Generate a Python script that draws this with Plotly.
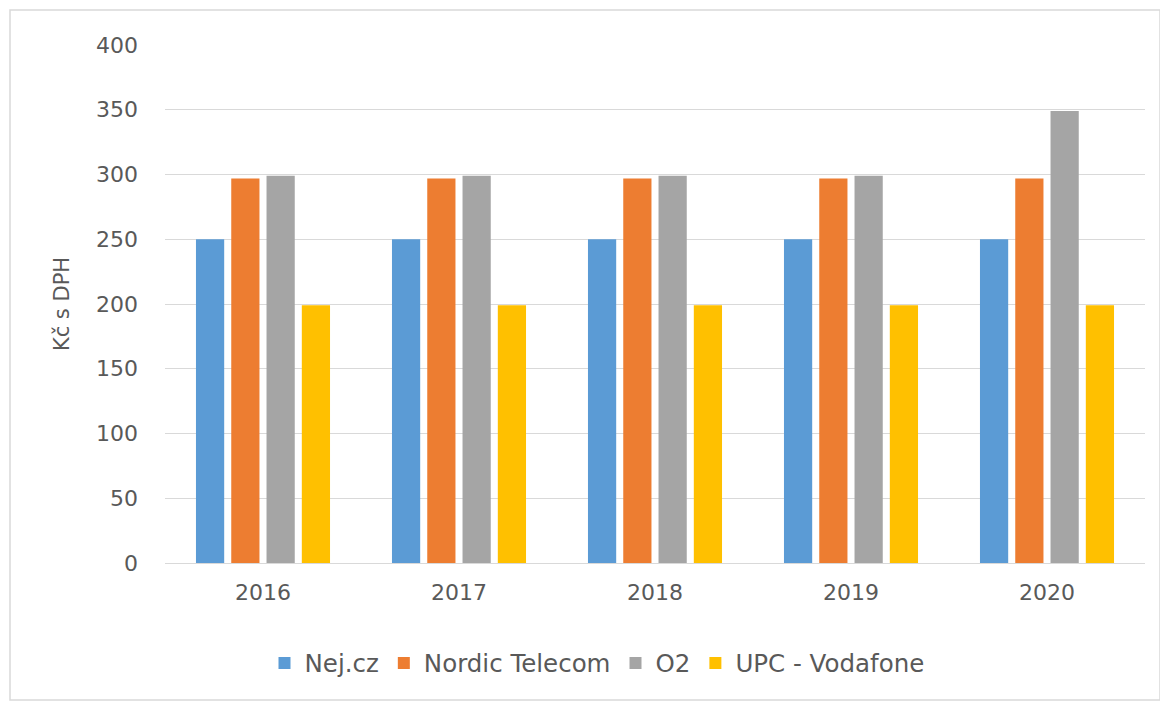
import plotly.graph_objects as go

years = ["2016", "2017", "2018", "2019", "2020"]
nej = [250, 250, 250, 250, 250]
nordic = [297, 297, 297, 297, 297]
o2 = [299, 299, 299, 299, 349]
upc = [199, 199, 199, 199, 199]

series = [
    ("Nej.cz", nej, "#5B9BD5"),
    ("Nordic Telecom", nordic, "#ED7D31"),
    ("O2", o2, "#A5A5A5"),
    ("UPC - Vodafone", upc, "#FFC000"),
]

fig = go.Figure()
for name, vals, col in series:
    fig.add_trace(go.Bar(x=years, y=vals, name=name, marker=dict(color=col, line=dict(width=0))))

# page has 8px body margin; figure coords = page coords - 8
OFF = 8
W, H = 1160, 696
L = 165 - OFF
T = 45 - OFF
R = W - (1145 - OFF)
B = H - (563 - OFF)
pw, ph = W - L - R, H - T - B
ybot = 563 - OFF

FONT = "DejaVu Sans, Open Sans, sans-serif"
FC = "#595959"

fig.update_layout(
    width=W, height=H,
    margin=dict(l=L, r=R, t=T, b=B),
    paper_bgcolor="white", plot_bgcolor="white",
    barmode="group", bargap=0.28, bargroupgap=0.2,
    font=dict(family=FONT, size=22, color=FC),
    showlegend=True,
    legend=dict(orientation="h", x=(597 - 8 - L) / pw, xanchor="center",
                y=(ybot - (663 - OFF)) / ph, yanchor="middle",
                font=dict(size=24.5, color=FC), itemwidth=30, traceorder="normal"),
    xaxis=dict(showgrid=False, showline=True, linecolor="#d9d9d9", linewidth=1,
               ticks="", ticklabelstandoff=10, tickfont=dict(size=22, color=FC)),
    yaxis=dict(range=[0, 400], dtick=50, showgrid=True, gridcolor="#d9d9d9", gridwidth=1,
               zeroline=False, ticks="", ticklabelstandoff=26,
               title=dict(text="Kč s DPH", standoff=20, font=dict(size=21, color=FC)),
               tickfont=dict(size=22, color=FC)),
    shapes=[dict(type="rect", xref="paper", yref="paper",
                 x0=(10 - OFF - L) / pw, x1=(1160 - OFF - L) / pw,
                 y0=(ybot - (700 - OFF)) / ph, y1=(ybot - (10 - OFF)) / ph,
                 line=dict(color="#d9d9d9", width=1.5), fillcolor="rgba(0,0,0,0)", layer="below")],
)

fig.write_html("out.html")
